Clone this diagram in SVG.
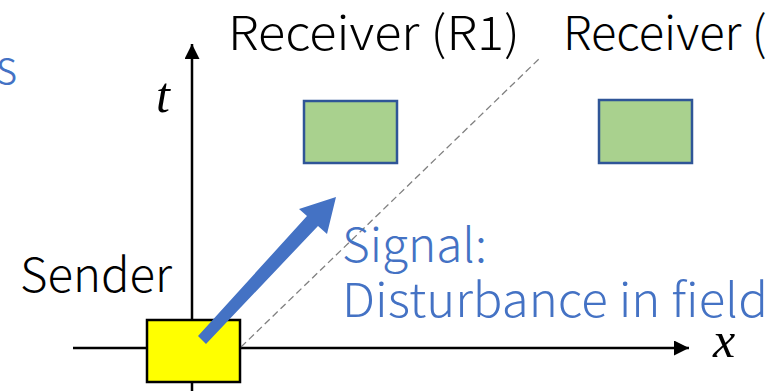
<svg xmlns="http://www.w3.org/2000/svg" width="775" height="391" viewBox="0 0 775 391">
<style>
.lbl{font-family:"Noto Sans CJK JP","Noto Sans",sans-serif;font-weight:300;font-size:47px;fill:#000}
.blue{fill:#4472C4}
.math{font-family:"Liberation Serif",serif;font-style:italic;font-size:50px;fill:#000}
.rx{fill:#A9D18E;stroke:#2F5597;stroke-width:2.5}
.axis{stroke:#000;stroke-width:2.5;fill:none}
</style>
<defs>
<marker id="ah" viewBox="0 0 10 10" refX="10" refY="5" markerWidth="6.5" markerHeight="6" markerUnits="strokeWidth" orient="auto">
<path d="M0,0 L10,5 L0,10 z" fill="#000"/>
</marker>
</defs>
<g id="connectors">
<line class="axis" x1="192" y1="391" x2="192" y2="44" marker-end="url(#ah)"/>
<line class="axis" x1="73" y1="348" x2="689" y2="348" marker-end="url(#ah)"/>
<line x1="241" y1="347" x2="541" y2="57" stroke="#808080" stroke-width="1.3" stroke-dasharray="7,4"/>
</g>
<g id="sender">
<rect x="147" y="320" width="93" height="62" fill="#FFFF00" stroke="#000" stroke-width="2.5"/>
<text class="lbl" x="20" y="292" textLength="152" lengthAdjust="spacingAndGlyphs">Sender</text>
</g>
<g id="signal">
<polygon points="198,336 206,344 318,226 327,234 336,197 299,209 307,216" fill="#4472C4"/>
<text class="lbl blue" x="342" y="262" textLength="145" lengthAdjust="spacingAndGlyphs">Signal:</text>
<text class="lbl blue" x="342" y="317" textLength="426" lengthAdjust="spacingAndGlyphs">Disturbance in field</text>
</g>
<g id="receiver1">
<rect class="rx" x="304" y="101" width="93" height="62"/>
<text class="lbl" x="228" y="50" textLength="292" lengthAdjust="spacingAndGlyphs">Receiver (R1)</text>
</g>
<g id="receiver2">
<rect class="rx" x="599" y="100" width="93" height="63"/>
<text class="lbl" x="563" y="50">Receiver (</text>
</g>
<g id="labels">
<text class="math" x="156" y="112">t</text>
<text class="math" x="713" y="357">x</text>
<text class="lbl blue" x="-4" y="84">s</text>
</g>
</svg>
